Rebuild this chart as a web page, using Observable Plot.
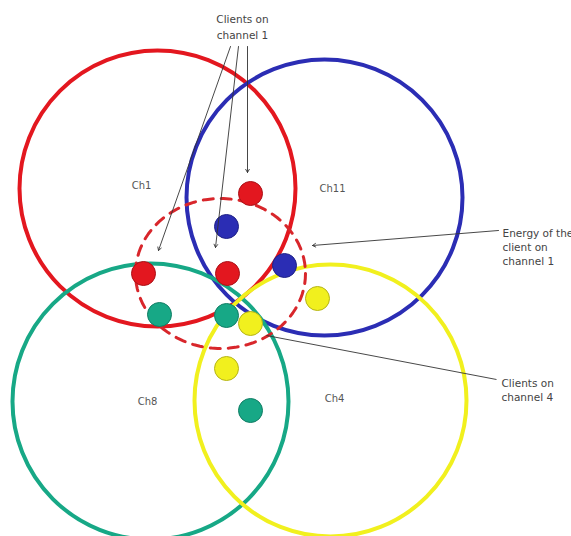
<!DOCTYPE html>
<html><head><meta charset="utf-8">
<script src="https://cdn.jsdelivr.net/npm/d3@7"></script>
<script src="https://cdn.jsdelivr.net/npm/@observablehq/plot@0.6"></script>
<style>
html,body{margin:0;padding:0;background:#fff;}
#chart{width:571px;height:536px;overflow:hidden;}
</style>
</head><body>
<div id="chart"></div>
<script>
// Channel coverage cells (centre x, centre y, radius) in diagram units
const channels = ["Ch1", "Ch11", "Ch8", "Ch4"];
const channelX = [157, 324, 150, 330];
const channelY = [188, 197, 401, 400];
const channelR = [138, 138, 138, 136];
const channelColor = ["#e3171f", "#2b2db4", "#17a886", "#f1f01e"];
const labelX = [141, 332, 147, 334];
const labelY = [185, 188, 401, 398];

// Clients (x, y, channel)
const clientX = [250, 227, 143, 226, 284, 159, 226, 250, 317, 250, 226];
const clientY = [193, 273, 273, 226, 265, 314, 315, 410, 298, 323, 368];
const clientCh = ["Ch1", "Ch1", "Ch1", "Ch11", "Ch11", "Ch8", "Ch8", "Ch8", "Ch4", "Ch4", "Ch4"];

// Energy ellipse of a channel-1 client
const energyCenter = [220, 273];
const energyRadii = [85, 75];

// Annotations
const noteText = ["Clients on\nchannel 1", "Energy of the\nclient on\nchannel 1", "Clients on\nchannel 4"];
const noteX = [242, 502, 501];
const noteY = [12, 226, 376];
const noteAnchor = ["middle", "start", "start"];
const arrowX1 = [230, 238, 247, 498];
const arrowY1 = [46, 46, 46, 230];
const arrowX2 = [158, 215, 247, 312];
const arrowY2 = [250, 247, 172, 245];
const linkX1 = [496], linkY1 = [379], linkX2 = [266], linkY2 = [335];

const circles = channels.map((c, i) => ({c, x: channelX[i], y: channelY[i], r: channelR[i], color: channelColor[i], lx: labelX[i], ly: labelY[i]}));
const colorOf = Object.fromEntries(channels.map((c, i) => [c, channelColor[i]]));
const clients = clientX.map((x, i) => ({x, y: clientY[i], ch: clientCh[i]}));
const ellipse = d3.range(0, 361, 4).map(a => ({
  x: energyCenter[0] + energyRadii[0] * Math.cos(a * Math.PI / 180),
  y: energyCenter[1] + energyRadii[1] * Math.sin(a * Math.PI / 180)
}));
const notes = noteText.map((t, i) => ({t, x: noteX[i], y: noteY[i], a: noteAnchor[i]}));
const arrows = arrowX1.map((x1, i) => ({x1, y1: arrowY1[i], x2: arrowX2[i], y2: arrowY2[i]}));
const links = linkX1.map((x1, i) => ({x1, y1: linkY1[i], x2: linkX2[i], y2: linkY2[i]}));
const darker = c => d3.color(c).darker(0.8).formatHex();

const plot = Plot.plot({
  width: 571, height: 536,
  margin: 0,
  x: {domain: [0, 571], range: [0, 571], axis: null},
  y: {domain: [0, 536], range: [0, 536], axis: null},
  r: {type: "identity"},
  style: {fontFamily: "DejaVu Sans, sans-serif", background: "#fff"},
  marks: [
    Plot.dot(circles, {x: "x", y: "y", r: "r", stroke: d => d.color, strokeWidth: 4, fill: "none"}),
    Plot.line(ellipse, {x: "x", y: "y", stroke: "#d8262b", strokeWidth: 3, strokeDasharray: "10,8", curve: "linear"}),
    Plot.dot(clients, {x: "x", y: "y", r: 12, fill: d => colorOf[d.ch], stroke: d => darker(colorOf[d.ch]), strokeWidth: 1}),
    Plot.text(circles, {x: "lx", y: "ly", text: "c", fontSize: 10, fill: "#555"}),
    Plot.arrow(arrows, {x1: "x1", y1: "y1", x2: "x2", y2: "y2", stroke: "#333", strokeWidth: 0.9, headLength: 6}),
    Plot.link(links, {x1: "x1", y1: "y1", x2: "x2", y2: "y2", stroke: "#333", strokeWidth: 0.9}),
    Plot.text(notes.filter(d => d.a === "middle"), {x: "x", y: "y", text: "t", fontSize: 10.5, fill: "#444", textAnchor: "middle", lineAnchor: "top", lineHeight: 1.45}),
    Plot.text(notes.filter(d => d.a === "start"), {x: "x", y: "y", text: "t", fontSize: 10.5, fill: "#444", textAnchor: "start", lineAnchor: "top", lineHeight: 1.35})
  ]
});
document.getElementById("chart").appendChild(plot);
</script>
</body></html>
